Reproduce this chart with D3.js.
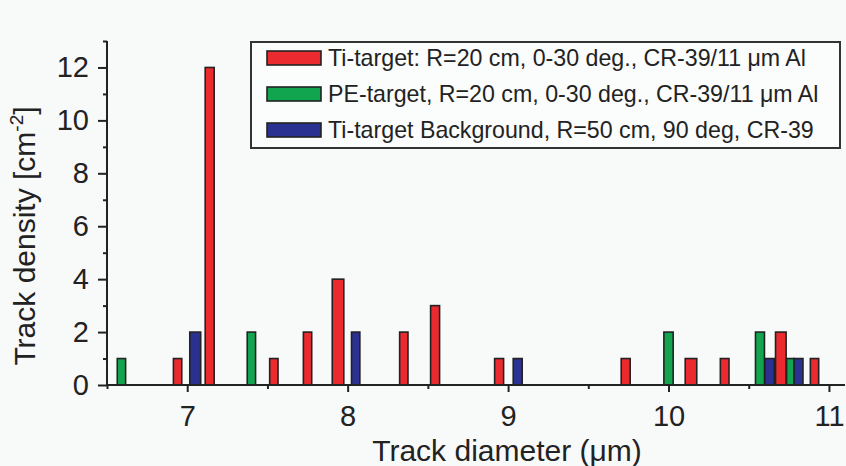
<!DOCTYPE html>
<html>
<head>
<meta charset="utf-8">
<script src="https://cdn.jsdelivr.net/npm/d3@7"></script>
<style>
  html, body { margin: 0; padding: 0; background: #f8f9f9; }
  svg { display: block; }
  svg text { font-family: "Liberation Sans", Arial, Helvetica, sans-serif; }
</style>
</head>
<body>
<svg id="chart" width="846" height="466"></svg>
<script>
// Track density per diameter bin, one array set per detector run
const tiDiam   = [6.94, 7.14, 7.54, 7.75, 7.94, 8.35, 8.545, 8.944, 9.733, 10.14, 10.35, 10.70, 10.91];
const tiDens   = [1, 12, 1, 2, 4, 2, 3, 1, 1, 1, 1, 2, 1];
const tiBin    = [0.052, 0.056, 0.052, 0.052, 0.072, 0.052, 0.056, 0.056, 0.056, 0.072, 0.054, 0.066, 0.052];

const peDiam   = [6.59, 7.40, 10.0, 10.57, 10.76];
const peDens   = [1, 2, 2, 2, 1];
const peBin    = [0.052, 0.052, 0.058, 0.056, 0.048];

const bgDiam   = [7.05, 8.05, 9.06, 10.63, 10.81];
const bgDens   = [2, 2, 1, 1, 1];
const bgBin    = [0.068, 0.052, 0.056, 0.058, 0.056];

const seriesNames = [
  "Ti-target: R=20 cm, 0-30 deg., CR-39/11 \u03bcm Al",
  "PE-target, R=20 cm, 0-30 deg., CR-39/11 \u03bcm Al",
  "Ti-target Background, R=50 cm, 90 deg, CR-39"
];
const seriesColors = ["#ea2a2e", "#12a550", "#2b3190"];

const xMajorTicks = [7, 8, 9, 10, 11];
const xMinorTicks = [6.5, 7.5, 8.5, 9.5, 10.5];
const yMajorTicks = [0, 2, 4, 6, 8, 10, 12];
const yMinorTicks = [1, 3, 5, 7, 9, 11, 13];

const series = [
  { name: seriesNames[0], color: seriesColors[0], d: tiDiam, v: tiDens, w: tiBin },
  { name: seriesNames[1], color: seriesColors[1], d: peDiam, v: peDens, w: peBin },
  { name: seriesNames[2], color: seriesColors[2], d: bgDiam, v: bgDens, w: bgBin }
];

const svg = d3.select("#chart");
const x = d3.scaleLinear().domain([6.5, 11.1]).range([107, 845]);
const y = d3.scaleLinear().domain([0, 13]).range([385, 41]);
const ink = "#222";

// bars
const bars = svg.append("g");
series.forEach(s => {
  const rows = s.d.map((d, i) => ({ d, v: s.v[i], w: s.w[i] }));
  bars.selectAll(null).data(rows).enter().append("rect")
    .attr("x", r => x(r.d - r.w / 2))
    .attr("width", r => x(r.d + r.w / 2) - x(r.d - r.w / 2))
    .attr("y", r => y(r.v))
    .attr("height", r => y(0) - y(r.v))
    .attr("fill", s.color)
    .attr("stroke", ink)
    .attr("stroke-width", 1.6);
});

// x axis
const xAxis = svg.append("g").attr("transform", `translate(0,${y(0)})`)
  .call(d3.axisBottom(x).tickValues(xMajorTicks).tickSize(7).tickPadding(13).tickFormat(d3.format("d")));
xAxis.append("g")
  .call(d3.axisBottom(x).tickValues(xMinorTicks).tickSize(4).tickFormat(""))
  .select(".domain").remove();
xAxis.select(".domain").attr("d", `M${x.range()[0]},0H${x.range()[1]}`);

// y axis
const yAxis = svg.append("g").attr("transform", `translate(${x(6.5)},0)`)
  .call(d3.axisLeft(y).tickValues(yMajorTicks).tickSize(9).tickPadding(9).tickFormat(d3.format("d")));
yAxis.append("g")
  .call(d3.axisLeft(y).tickValues(yMinorTicks).tickSize(4).tickFormat(""))
  .select(".domain").remove();
yAxis.select(".domain").attr("d", `M0,${y.range()[0]}V${y.range()[1]}`);

svg.selectAll(".domain, .tick line").attr("stroke", ink).attr("stroke-width", 2);
svg.selectAll("g").attr("font-family", null);
svg.selectAll(".tick text").attr("fill", ink).attr("font-size", 29);

// axis titles
svg.append("text")
  .attr("x", 507).attr("y", 461)
  .attr("text-anchor", "middle").attr("font-size", 30).attr("fill", ink)
  .text("Track diameter (\u03bcm)");

const yt = svg.append("text")
  .attr("transform", "translate(35,236) rotate(-90)")
  .attr("text-anchor", "middle").attr("font-size", 30).attr("fill", ink);
yt.append("tspan").text("Track density [cm");
yt.append("tspan").attr("font-size", 19).attr("dy", -12).text("-2");
yt.append("tspan").attr("dy", 12).text("]");

// legend
const lg = svg.append("g");
lg.append("rect")
  .attr("x", 251).attr("y", 42).attr("width", 589).attr("height", 106)
  .attr("fill", "#fbfcfc").attr("stroke", "#333").attr("stroke-width", 2);
series.forEach((s, i) => {
  const cy = 58 + i * 36;
  lg.append("rect")
    .attr("x", 267).attr("y", cy - 7).attr("width", 54).attr("height", 14)
    .attr("fill", s.color).attr("stroke", ink).attr("stroke-width", 1.6);
  lg.append("text")
    .attr("x", 328).attr("y", cy + 8)
    .attr("font-size", 23.2).attr("fill", ink)
    .text(s.name);
});
</script>
</body>
</html>
